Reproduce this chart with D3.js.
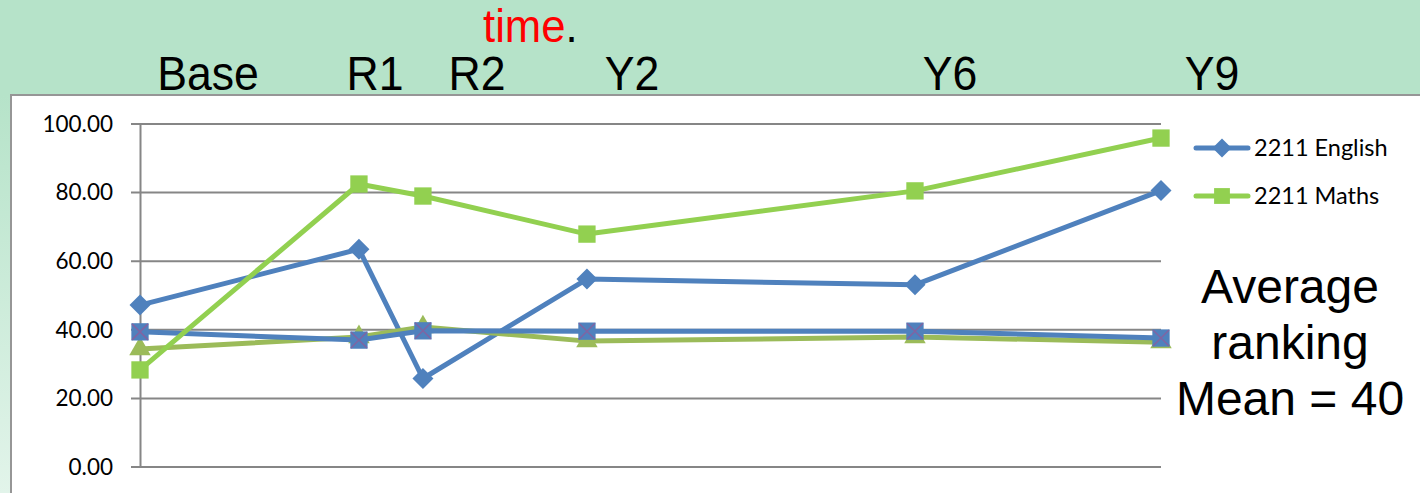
<!DOCTYPE html>
<html>
<head>
<meta charset="utf-8">
<script src="https://cdn.jsdelivr.net/npm/d3@7"></script>
<style>
  body { margin: 0; background: #b6e3c9; }
  svg { display: block; }
</style>
</head>
<body>
<svg id="chart" width="1420" height="493"></svg>
<script>
// categories and their position on the time line (years, R2 = 0)
const stages = ["Base", "R1", "R2", "Y2", "Y6", "Y9"];
const stageTime = [-3.45, -0.78, 0, 2, 6, 9];

// series values
const english = [47.2, 63.5, 25.8, 54.8, 53.1, 80.6];
const maths = [28.3, 82.5, 79.0, 67.9, 80.5, 95.9];
const englishAvg = [39.4, 37.0, 39.7, 39.6, 39.6, 37.6];
const mathsAvg = [34.4, 37.9, 40.8, 36.7, 37.9, 36.4];

const yTicks = [0, 20, 40, 60, 80, 100];
const legendNames = ["2211 English", "2211 Maths"];

// header labels (slide text above the chart), pixel centres
const headerX = [208, 375, 477, 632, 950, 1212];

const svg = d3.select("#chart");
const W = 1420, H = 493;
const headFont = "Liberation Sans, Arial, sans-serif";

// background + left fade
const defs = svg.append("defs");
const grad = defs.append("linearGradient")
    .attr("id", "fade").attr("x1", 0).attr("y1", 0).attr("x2", 0).attr("y2", 1);
grad.append("stop").attr("offset", "0%").attr("stop-color", "#b6e3c9");
grad.append("stop").attr("offset", "100%").attr("stop-color", "#e2f4ea");

svg.append("rect").attr("width", W).attr("height", H).attr("fill", "#b6e3c9");
svg.append("rect").attr("x", 0).attr("y", 95).attr("width", 12).attr("height", H - 95)
    .attr("fill", "url(#fade)");

// chart box
svg.append("rect")
    .attr("x", 11).attr("y", 95).attr("width", W).attr("height", H)
    .attr("fill", "#fff").attr("stroke", "#969696").attr("stroke-width", 2);

// slide header text (slightly condensed, like the original)
svg.append("text")
    .attr("transform", "translate(483, 42) scale(0.93, 1)")
    .attr("font-family", headFont)
    .attr("font-size", 47)
    .call(t => {
        t.append("tspan").attr("fill", "#ff0000").text("time");
        t.append("tspan").attr("fill", "#000").text(".");
    });

svg.selectAll(".stage")
    .data(stages)
    .join("text")
    .attr("class", "stage")
    .attr("transform", (d, i) => `translate(${headerX[i]}, 90) scale(0.93, 1)`)
    .attr("text-anchor", "middle")
    .attr("font-family", headFont)
    .attr("font-size", 48)
    .attr("fill", "#000")
    .text(d => d);

// scales
const x = d3.scaleLinear()
    .domain([d3.min(stageTime), d3.max(stageTime)])
    .range([140, 1161]);

const y = d3.scaleLinear()
    .domain([0, 100])
    .range([467, 124]);

// gridlines
const plot = svg.append("g");
plot.selectAll(".grid")
    .data(yTicks)
    .join("line")
    .attr("x1", 131).attr("x2", x.range()[1])
    .attr("y1", d => y(d)).attr("y2", d => y(d))
    .attr("stroke", "#868686").attr("stroke-width", 2);

const yaxis = d3.axisLeft(y)
    .tickValues(yTicks)
    .tickSize(0)
    .tickPadding(27)
    .tickFormat(d3.format(".2f"));

const yaxis_group = plot.append("g")
    .attr("transform", `translate(140, 0)`)
    .call(yaxis);
yaxis_group.select(".domain").attr("stroke", "#868686").attr("stroke-width", 2);
yaxis_group.selectAll("text")
    .attr("font-family", "Lato, sans-serif")
    .attr("font-size", 22.5)
    .attr("fill", "#000");

// series
const blue = "#4f81bd", green = "#92d050", olive = "#9bbb59", purple = "#8064a2";

const line = d3.line()
    .x((d, i) => x(stageTime[i]))
    .y(d => y(d));

const diamond = r => `M0,${-r}L${r},0L0,${r}L${-r},0Z`;
const markerShapes = {
    diamond: diamond(10.5),
    square: d3.symbol().type(d3.symbolSquare).size(300)(),
    triangle: d3.symbol().type(d3.symbolTriangle).size(200)()
};

function drawSeries(values, color, marker) {
    const g = plot.append("g");
    g.append("path")
        .datum(values)
        .attr("d", line)
        .attr("fill", "none")
        .attr("stroke", color)
        .attr("stroke-width", 5)
        .attr("stroke-linejoin", "round");

    const pts = g.selectAll("g.pt")
        .data(values)
        .join("g")
        .attr("class", "pt")
        .attr("transform", (d, i) => `translate(${x(stageTime[i])}, ${y(d)})`);

    if (marker === "cross") {
        pts.append("path").attr("d", markerShapes.square).attr("fill", color);
        pts.append("path").attr("d", "M-8,-8L8,8M-8,8L8,-8")
            .attr("stroke", purple).attr("stroke-width", 1.5);
    } else {
        pts.append("path").attr("d", markerShapes[marker]).attr("fill", color);
    }
}

drawSeries(english, blue, "diamond");
drawSeries(mathsAvg, olive, "triangle");
drawSeries(englishAvg, blue, "cross");
drawSeries(maths, green, "square");

// legend
const legend = svg.append("g");
const legendItems = [
    { name: legendNames[0], color: blue, shape: diamond(9.5) },
    { name: legendNames[1], color: green, shape: d3.symbol().type(d3.symbolSquare).size(250)() }
];
legendItems.forEach((d, i) => {
    const ly = 148 + i * 48;
    legend.append("line")
        .attr("x1", 1196).attr("x2", 1248)
        .attr("y1", ly).attr("y2", ly)
        .attr("stroke", d.color).attr("stroke-width", 5)
        .attr("stroke-linecap", "round");
    legend.append("path")
        .attr("transform", `translate(1222, ${ly})`)
        .attr("d", d.shape)
        .attr("fill", d.color);
    legend.append("text")
        .attr("x", 1254).attr("y", ly + 8)
        .attr("font-family", "Lato, sans-serif")
        .attr("font-size", 23.5)
        .attr("fill", "#000")
        .text(d.name);
});

// side note
const note = svg.append("text")
    .attr("text-anchor", "middle")
    .attr("font-family", headFont)
    .attr("font-size", 48)
    .attr("fill", "#000");
["Average", "ranking", "Mean = 40"].forEach((s, i) => {
    note.append("tspan").attr("x", 1290).attr("y", 303 + i * 56).text(s);
});
</script>
</body>
</html>
